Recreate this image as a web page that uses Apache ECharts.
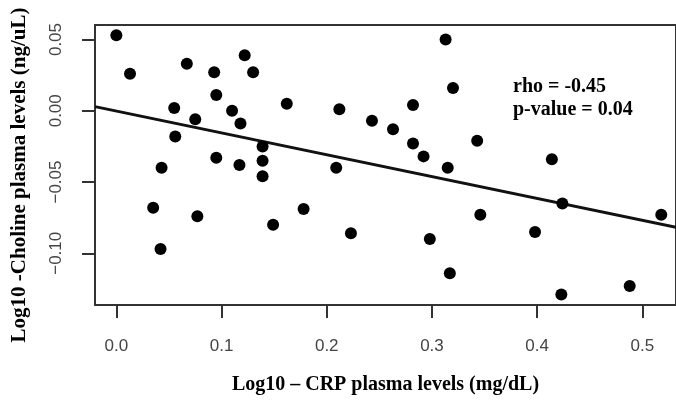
<!DOCTYPE html>
<html>
<head>
<meta charset="utf-8">
<script src="https://cdn.jsdelivr.net/npm/echarts@6/dist/echarts.min.js"></script>
<style>
  html, body { margin: 0; padding: 0; background: #fff; }
  #chart { width: 676px; height: 403px; }
</style>
</head>
<body>
<div id="chart"></div>
<script>
// log10 CRP (x) vs log10 choline (y)
const crpLog = [
  0.000, 0.013, 0.067, 0.093, 0.122, 0.130, 0.095, 0.055, 0.075, 0.110,
  0.118, 0.056, 0.139, 0.139, 0.139, 0.095, 0.117, 0.043, 0.162, 0.212,
  0.035, 0.077, 0.042, 0.149, 0.178, 0.223, 0.298, 0.317, 0.346, 0.398,
  0.424, 0.423, 0.488, 0.518, 0.313, 0.320, 0.243, 0.263, 0.282, 0.282,
  0.292, 0.315, 0.343, 0.414, 0.209
]
const cholineLog = [
  0.053, 0.026, 0.033, 0.027, 0.039, 0.027, 0.011, 0.002, -0.006, 0.000,
  -0.009, -0.018, -0.025, -0.035, -0.046, -0.033, -0.038, -0.040, 0.005, 0.001,
  -0.068, -0.074, -0.097, -0.080, -0.069, -0.086, -0.090, -0.114, -0.073, -0.085,
  -0.065, -0.129, -0.123, -0.073, 0.050, 0.016, -0.007, -0.013, 0.004, -0.023,
  -0.032, -0.040, -0.021, -0.034, -0.040
]

// fitted line end points
const fitX = [-0.0203, 0.532]
const fitY = [0.0029, -0.0818]

const xTicks = [0, 0.1, 0.2, 0.3, 0.4, 0.5]
const yTicks = [-0.10, -0.05, 0, 0.05]

const rhoText = 'rho = -0.45'
const pText = 'p-value = 0.04'

const myChart = echarts.init(document.getElementById('chart'))

const serif = '"Liberation Serif", "DejaVu Serif", serif'
const sans = '"Liberation Sans", Arial, sans-serif'

const option = {
  animation: false,
  backgroundColor: '#fff',
  grid: {
    left: 95,
    right: -3,
    top: 25,
    bottom: 98,
    show: true,
    borderColor: '#333',
    borderWidth: 2
  },
  xAxis: {
    type: 'value',
    min: -0.0203,
    max: 0.532,
    name: 'Log10 \u2013 CRP plasma levels (mg/dL)',
    nameLocation: 'middle',
    nameGap: 70,
    nameTextStyle: { fontFamily: serif, fontWeight: 'bold', fontSize: 20, color: '#000' },
    axisLine: { show: true, onZero: false, lineStyle: { color: '#333', width: 2 } },
    axisTick: { show: true, length: 13, customValues: xTicks, lineStyle: { color: '#333', width: 2 } },
    axisLabel: {
      customValues: xTicks,
      margin: 33,
      fontFamily: sans,
      fontSize: 17,
      color: '#444',
      formatter: (v) => v.toFixed(1)
    },
    splitLine: { show: false }
  },
  yAxis: {
    type: 'value',
    min: -0.1363,
    max: 0.0602,
    axisLine: { show: true, onZero: false, lineStyle: { color: '#333', width: 2 } },
    axisTick: { show: true, length: 13, customValues: yTicks, lineStyle: { color: '#333', width: 2 } },
    axisLabel: {
      customValues: yTicks,
      rotate: 90,
      margin: 30,
      fontFamily: sans,
      fontSize: 17,
      color: '#444',
      formatter: (v) => v.toFixed(2).replace('-', '\u2212')
    },
    splitLine: { show: false }
  },
  graphic: [
    {
      // y axis title, rotated to read bottom to top
      type: 'text',
      x: 20,
      y: 175,
      rotation: Math.PI / 2,
      style: {
        text: 'Log10 -Choline plasma levels (ng/uL)',
        font: 'bold 21px ' + serif,
        fill: '#000',
        align: 'center',
        verticalAlign: 'middle'
      }
    },
    {
      type: 'text',
      x: 513,
      y: 77,
      style: { text: rhoText, font: 'bold 20px ' + serif, fill: '#000' }
    },
    {
      type: 'text',
      x: 513,
      y: 100,
      style: { text: pText, font: 'bold 20px ' + serif, fill: '#000' }
    }
  ],
  series: [
    {
      type: 'line',
      data: fitX.map((x, i) => [x, fitY[i]]),
      symbol: 'none',
      lineStyle: { color: '#111', width: 3 },
      z: 2
    },
    {
      type: 'scatter',
      data: crpLog.map((x, i) => [x, cholineLog[i]]),
      symbol: 'circle',
      symbolSize: 12,
      itemStyle: { color: '#000', opacity: 1 },
      z: 3
    }
  ]
}

myChart.setOption(option)
</script>
</body>
</html>
